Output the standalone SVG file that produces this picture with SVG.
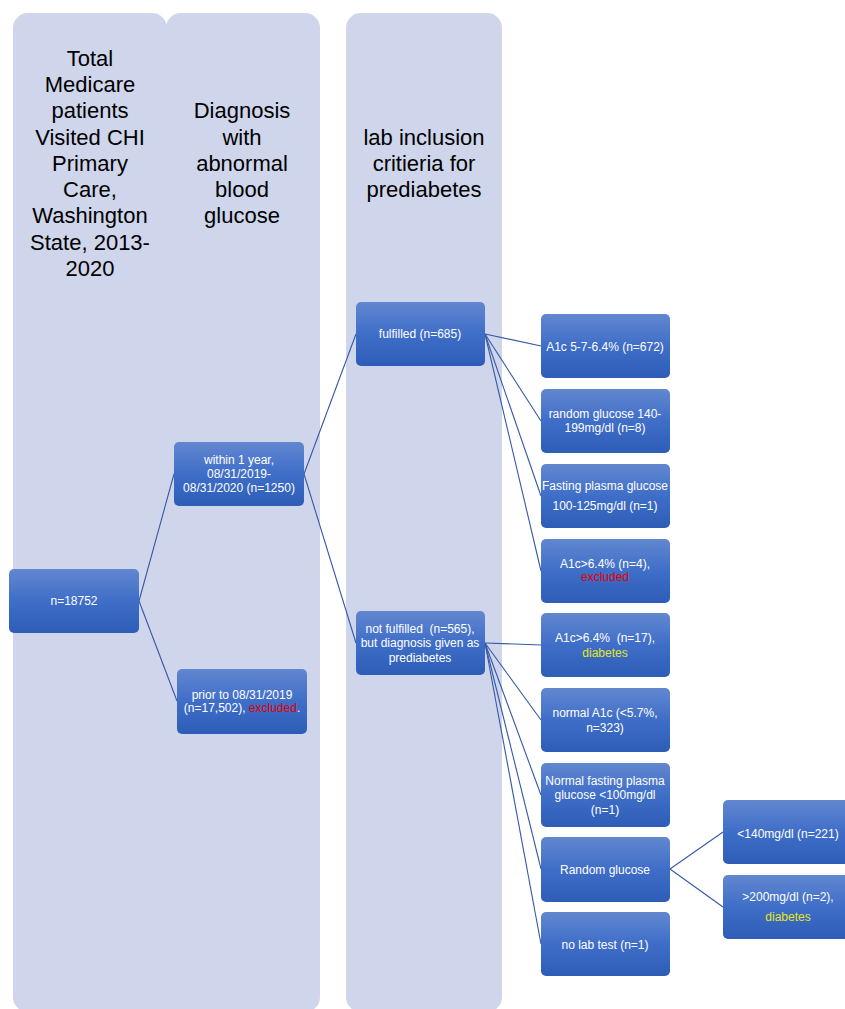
<svg xmlns="http://www.w3.org/2000/svg" width="845" height="1009" viewBox="0 0 845 1009">
<defs>
<linearGradient id="g" x1="0" y1="0" x2="0" y2="1">
<stop offset="0" stop-color="#6287D0"/>
<stop offset="0.5" stop-color="#3F6EC8"/>
<stop offset="1" stop-color="#2E5DB8"/>
</linearGradient>
<style>
.col{fill:#CFD5EA}
.hd{font-family:"Liberation Sans",Arial,sans-serif;font-size:22px;fill:#000;text-anchor:middle}
.box{fill:url(#g)}
.t{font-family:"Liberation Sans",Arial,sans-serif;font-size:12px;fill:#fff;text-anchor:middle}
.red{fill:#E00000}
.yel{fill:#E3E61A}
.ln{stroke:#3559A6;stroke-width:1.1;fill:none}
</style>
</defs>
<rect width="845" height="1009" fill="#fff"/>
<g id="columns">
<rect class="col" x="13" y="13" width="154" height="999" rx="15"/>
<rect class="col" x="166" y="13" width="154" height="999" rx="15"/>
<rect class="col" x="346" y="13" width="156" height="999" rx="15"/>
<rect class="col" x="30" y="40" width="270" height="969"/>
<text class="hd" x="90" y="66">Total</text>
<text class="hd" x="90" y="92">Medicare</text>
<text class="hd" x="90" y="118">patients</text>
<text class="hd" x="90" y="145">Visited CHI</text>
<text class="hd" x="90" y="171">Primary</text>
<text class="hd" x="90" y="197">Care,</text>
<text class="hd" x="90" y="223">Washington</text>
<text class="hd" x="90" y="250">State, 2013-</text>
<text class="hd" x="90" y="276">2020</text>
<text class="hd" x="242" y="118">Diagnosis</text>
<text class="hd" x="242" y="145">with</text>
<text class="hd" x="242" y="171">abnormal</text>
<text class="hd" x="242" y="197">blood</text>
<text class="hd" x="242" y="223">glucose</text>
<text class="hd" x="424" y="145">lab inclusion</text>
<text class="hd" x="424" y="171">critieria for</text>
<text class="hd" x="424" y="197">prediabetes</text>
</g>
<g id="connectors">
<line class="ln" x1="139" y1="601" x2="174" y2="474"/>
<line class="ln" x1="139" y1="601" x2="177" y2="701"/>
<line class="ln" x1="304" y1="474" x2="356" y2="334"/>
<line class="ln" x1="304" y1="474" x2="356" y2="643"/>
<line class="ln" x1="485" y1="334" x2="541" y2="346"/>
<line class="ln" x1="485" y1="334" x2="541" y2="421"/>
<line class="ln" x1="485" y1="334" x2="541" y2="496"/>
<line class="ln" x1="485" y1="334" x2="541" y2="571"/>
<line class="ln" x1="485" y1="643" x2="541" y2="645"/>
<line class="ln" x1="485" y1="643" x2="541" y2="720"/>
<line class="ln" x1="485" y1="643" x2="541" y2="795"/>
<line class="ln" x1="485" y1="643" x2="541" y2="869"/>
<line class="ln" x1="485" y1="643" x2="541" y2="944"/>
<line class="ln" x1="670" y1="869" x2="723" y2="832"/>
<line class="ln" x1="670" y1="869" x2="723" y2="907"/>
</g>
<g id="n18752"><rect class="box" x="9" y="569" width="130" height="64" rx="5"/><text class="t" x="74" y="605">n=18752</text></g>
<g id="within"><rect class="box" x="174" y="442" width="130" height="64" rx="5"/>
<text class="t" x="239" y="464">within 1 year,</text><text class="t" x="239" y="478">08/31/2019-</text><text class="t" x="239" y="492">08/31/2020 (n=1250)</text></g>
<g id="prior"><rect class="box" x="177" y="669" width="130" height="65" rx="5"/>
<text class="t" x="242" y="699">prior to 08/31/2019</text><text class="t" x="242" y="712">(n=17,502), <tspan class="red">excluded</tspan>.</text></g>
<g id="fulfilled"><rect class="box" x="356" y="302" width="129" height="64" rx="5"/><text class="t" x="420" y="338">fulfilled (n=685)</text></g>
<g id="notfulfilled"><rect class="box" x="356" y="611" width="129" height="64" rx="5"/>
<text class="t" x="420" y="633" xml:space="preserve">not fulfilled  (n=565),</text><text class="t" x="420" y="647">but diagnosis given as</text><text class="t" x="420" y="662">prediabetes</text></g>
<g id="a1c57"><rect class="box" x="541" y="314" width="129" height="64" rx="5"/><text class="t" x="605" y="351">A1c 5-7-6.4% (n=672)</text></g>
<g id="random140"><rect class="box" x="541" y="389" width="129" height="64" rx="5"/>
<text class="t" x="605" y="418">random glucose 140-</text><text class="t" x="605" y="432">199mg/dl (n=8)</text></g>
<g id="fasting"><rect class="box" x="541" y="464" width="129" height="64" rx="5"/>
<text class="t" x="605" y="490">Fasting plasma glucose</text><text class="t" x="605" y="510">100-125mg/dl (n=1)</text></g>
<g id="a1c4"><rect class="box" x="541" y="539" width="129" height="64" rx="5"/>
<text class="t" x="605" y="568">A1c&gt;6.4% (n=4),</text><text class="t red" x="605" y="581">excluded</text></g>
<g id="a1c17"><rect class="box" x="541" y="613" width="129" height="64" rx="5"/>
<text class="t" x="605" y="642" xml:space="preserve">A1c&gt;6.4%  (n=17),</text><text class="t yel" x="605" y="657">diabetes</text></g>
<g id="normala1c"><rect class="box" x="541" y="688" width="129" height="64" rx="5"/>
<text class="t" x="605" y="717">normal A1c (&lt;5.7%,</text><text class="t" x="605" y="732">n=323)</text></g>
<g id="normalfasting"><rect class="box" x="541" y="763" width="129" height="64" rx="5"/>
<text class="t" x="605" y="785">Normal fasting plasma</text><text class="t" x="605" y="799">glucose &lt;100mg/dl</text><text class="t" x="605" y="814">(n=1)</text></g>
<g id="randomglucose"><rect class="box" x="541" y="837" width="129" height="65" rx="5"/><text class="t" x="605" y="874">Random glucose</text></g>
<g id="nolab"><rect class="box" x="541" y="912" width="129" height="64" rx="5"/><text class="t" x="605" y="949">no lab test (n=1)</text></g>
<g id="lt140"><rect class="box" x="723" y="800" width="130" height="64" rx="5"/><text class="t" x="788" y="838">&lt;140mg/dl (n=221)</text></g>
<g id="gt200"><rect class="box" x="723" y="875" width="130" height="64" rx="5"/>
<text class="t" x="788" y="901">&gt;200mg/dl (n=2),</text><text class="t yel" x="788" y="921">diabetes</text></g>
</svg>
